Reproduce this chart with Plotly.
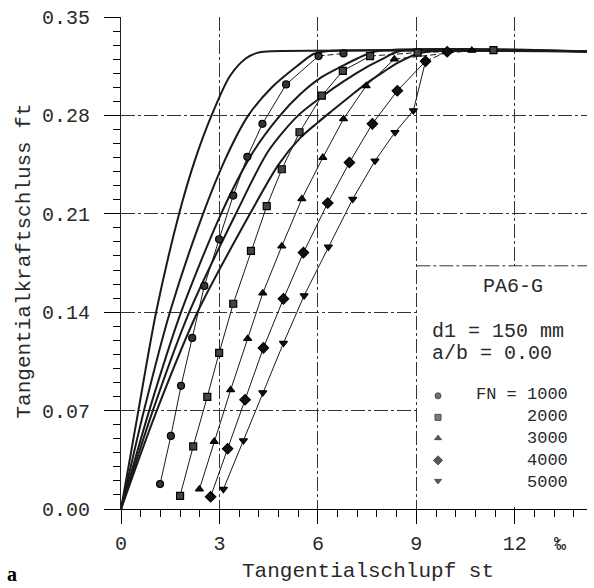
import plotly.graph_objects as go

# ---------------------------------------------------------------
# Measured traction curves (tangential force ratio ft vs. slip st, in per mille)
# ---------------------------------------------------------------
fn_labels = ["1000", "2000", "3000", "4000", "5000"]

st_1000 = [1.19, 1.52, 1.83, 2.17, 2.54, 2.99, 3.42, 3.85, 4.31, 5.03, 6.02, 6.78]
ft_1000 = [0.0177, 0.052, 0.0876, 0.1217, 0.1587, 0.1919, 0.223, 0.2505, 0.274, 0.302, 0.3222, 0.3241]

st_2000 = [1.80, 2.20, 2.63, 2.99, 3.42, 3.96, 4.44, 4.90, 5.44, 6.12, 6.76, 7.59, 9.04, 11.35]
ft_2000 = [0.0094, 0.0445, 0.0798, 0.111, 0.146, 0.1836, 0.2154, 0.2417, 0.268, 0.294, 0.3117, 0.3222, 0.3247, 0.3265]

st_3000 = [2.39, 2.84, 3.34, 3.86, 4.32, 4.90, 5.51, 6.15, 6.78, 7.47, 8.33, 10.69]
ft_3000 = [0.0141, 0.048, 0.0847, 0.1212, 0.1535, 0.187, 0.2206, 0.250, 0.2775, 0.301, 0.320, 0.3262]

st_4000 = [2.73, 3.25, 3.78, 4.34, 4.95, 5.56, 6.30, 6.96, 7.66, 8.42, 9.28, 9.94]
ft_4000 = [0.0087, 0.0429, 0.0777, 0.1146, 0.1495, 0.1824, 0.2177, 0.2465, 0.274, 0.2975, 0.3185, 0.3253]

st_5000 = [3.12, 3.73, 4.32, 4.95, 5.58, 6.32, 7.06, 7.74, 8.35, 8.91, 9.28]
ft_5000 = [0.0141, 0.0487, 0.0828, 0.118, 0.1518, 0.1864, 0.2205, 0.2477, 0.268, 0.2834, 0.3185]

# ---------------------------------------------------------------
# Calculated traction curves (one per normal force)
# ---------------------------------------------------------------
calc_st_1000 = [0, 0.53, 1.07, 1.77, 2.25, 2.76, 3.32, 3.8, 4.15, 4.45, 14.2]
calc_ft_1000 = [0, 0.07, 0.14, 0.21, 0.248, 0.28, 0.308, 0.3205, 0.3245, 0.3255, 0.3255]

calc_st_2000 = [0, 0.70, 1.49, 2.5, 3.2, 3.88, 4.6, 5.36, 5.85, 6.2, 14.2]
calc_ft_2000 = [0, 0.07, 0.14, 0.21, 0.25, 0.28, 0.300, 0.315, 0.3235, 0.3255, 0.3255]

calc_st_3000 = [0, 0.86, 1.83, 3.05, 4.0, 4.85, 5.46, 6.1, 6.73, 7.2, 7.75, 14.2]
calc_ft_3000 = [0, 0.07, 0.14, 0.21, 0.253, 0.28, 0.295, 0.307, 0.315, 0.3205, 0.3255, 0.3255]

calc_st_4000 = [0, 0.97, 2.08, 3.5, 4.5, 5.4, 6.1, 6.77, 7.5, 8.0, 8.45, 14.2]
calc_ft_4000 = [0, 0.07, 0.14, 0.21, 0.255, 0.28, 0.293, 0.304, 0.3145, 0.3205, 0.3255, 0.3255]

calc_st_5000 = [0, 1.09, 2.33, 3.93, 4.8, 5.46, 6.0, 6.47, 7.0, 7.49, 8.0, 8.4, 9.0, 9.4, 14.2]
calc_ft_5000 = [0, 0.07, 0.14, 0.21, 0.245, 0.264, 0.275, 0.284, 0.294, 0.303, 0.311, 0.317, 0.3235, 0.3255, 0.3255]

x_ticks = [0, 3, 6, 9, 12]
y_ticks = [0.00, 0.07, 0.14, 0.21, 0.28, 0.35]

# ---------------------------------------------------------------
measured = [
    (st_1000, ft_1000), (st_2000, ft_2000), (st_3000, ft_3000),
    (st_4000, ft_4000), (st_5000, ft_5000),
]
calculated = [
    (calc_st_1000, calc_ft_1000), (calc_st_2000, calc_ft_2000),
    (calc_st_3000, calc_ft_3000), (calc_st_4000, calc_ft_4000),
    (calc_st_5000, calc_ft_5000),
]

# marker style per normal force, and how many points of each run are joined solid
symbols = ["circle", "square", "triangle-up", "diamond", "triangle-down"]
fills = ["#333333", "#444444", "#111111", "#111111", "#111111"]
sizes = [7, 7, 7, 8, 7]
solid_points = [11, 12, 11, 11, 11]

INK = "#1a1a1a"
fig = go.Figure()

for xs, ys in calculated:
    fig.add_trace(go.Scatter(
        x=xs, y=ys, mode="lines",
        line=dict(color=INK, width=2, shape="spline", smoothing=0.8),
        hoverinfo="skip", showlegend=False,
    ))

for (xs, ys), sym, fc, sz, n in zip(measured, symbols, fills, sizes, solid_points):
    # solid connecting line up to the plateau, dashed beyond
    fig.add_trace(go.Scatter(
        x=xs[:n], y=ys[:n], mode="lines",
        line=dict(color=INK, width=1), showlegend=False, hoverinfo="skip",
    ))
    fig.add_trace(go.Scatter(
        x=xs[n - 1:], y=ys[n - 1:], mode="lines",
        line=dict(color=INK, width=1, dash="6px,3px"), showlegend=False, hoverinfo="skip",
    ))
    fig.add_trace(go.Scatter(
        x=xs, y=ys, mode="markers",
        marker=dict(symbol=sym, size=sz, color=fc, line=dict(color="black", width=1.2)),
        showlegend=False,
    ))

# ---------------------------------------------------------------
# Key box in the lower right corner
# ---------------------------------------------------------------
box_x0, box_x1, box_top = 9.0, 14.2, 0.173
fig.add_shape(type="rect", x0=box_x0 + 0.03, x1=box_x1, y0=0.0015, y1=box_top,
              fillcolor="white", line=dict(width=0), layer="between")
fig.add_shape(type="line", x0=box_x0, x1=box_x1, y0=box_top, y1=box_top,
              line=dict(color="#333", width=1, dash="14px,3px,3px,3px"), layer="between")

key_x = 9.66
key_num_x = 13.69
key_rows = [0.0805, 0.0652, 0.0504, 0.0346, 0.0200]
fig.add_trace(go.Scatter(
    x=[key_x] * len(key_rows), y=key_rows, mode="markers",
    marker=dict(symbol=symbols, size=[s - 1 for s in sizes], color=fills,
                line=dict(color="black", width=1)),
    showlegend=False, hoverinfo="skip",
))

txt = dict(family="Liberation Mono", size=20, color="#2a2a2a")
title_font = dict(family="Liberation Mono", size=21, color="#2a2a2a")
key_font = dict(family="Liberation Mono", size=17, color="#2a2a2a")

ann = [
    dict(x=11.95, y=0.158, text="PA6-G", xanchor="center"),
    dict(x=9.42, y=0.1264, text="d1 = 150 mm", xanchor="left"),
    dict(x=9.42, y=0.1109, text="a/b = 0.00", xanchor="left"),
]
for a in ann:
    fig.add_annotation(xref="x", yref="y", showarrow=False, yanchor="middle", font=txt, **a)

# normal-force list as one right-aligned block, one row per key marker
fn_block = "<br>".join(("FN = " if i == 0 else "") + lab for i, lab in enumerate(fn_labels))
fig.add_annotation(xref="x", yref="y", x=key_num_x, y=(key_rows[0] + key_rows[-1]) / 2,
                   text=fn_block, align="right", showarrow=False, xanchor="right",
                   yanchor="middle", font=key_font)

# axis titles, unit and panel letter
fig.add_annotation(xref="x", yref="paper", x=7.52, y=-0.127, text="Tangentialschlupf st",
                   showarrow=False, font=title_font, xanchor="center", yanchor="middle")
fig.add_annotation(xref="paper", yref="paper", x=-0.206, y=0.503, text="Tangentialkraftschluss ft",
                   textangle=-90, showarrow=False, font=title_font, xanchor="center", yanchor="middle")
fig.add_annotation(xref="x", yref="paper", x=13.38, y=-0.0727, text="‰",
                   showarrow=False, font=txt, xanchor="center", yanchor="middle")
fig.add_annotation(xref="paper", yref="paper", x=-0.234, y=-0.133, text="<b>a</b>",
                   showarrow=False, font=dict(family="Liberation Serif", size=20, color="black"),
                   xanchor="center", yanchor="middle")

grid_style = dict(showgrid=True, gridcolor="#333", gridwidth=1, griddash="14px,3px,3px,3px")

fig.update_xaxes(
    range=[0, 14.2], tickvals=x_ticks, ticktext=[str(v) for v in x_ticks],
    ticks="outside", ticklen=14, tickcolor="black", tickwidth=1,
    zeroline=False, showline=True, linecolor="black", linewidth=1.2,
    tickfont=txt, ticklabelstandoff=2,
    minor=dict(dtick=0.6, tick0=0, ticks="outside", ticklen=7, tickcolor="black", showgrid=False),
    **grid_style,
)
fig.update_yaxes(
    range=[0, 0.35], tickvals=y_ticks, ticktext=[f"{v:.2f}" for v in y_ticks],
    ticks="outside", ticklen=16, tickcolor="black", tickwidth=1,
    zeroline=False, showline=True, linecolor="#222", linewidth=1,
    tickfont=txt, ticklabelstandoff=10,
    minor=dict(dtick=0.01, tick0=0, ticks="outside", ticklen=7, tickcolor="black", showgrid=False),
    **grid_style,
)

fig.update_layout(
    width=594, height=588,
    margin=dict(l=121, r=7, t=14, b=79),
    plot_bgcolor="white", paper_bgcolor="white",
    showlegend=False,
    font=txt,
)

fig.write_html("out.html")
